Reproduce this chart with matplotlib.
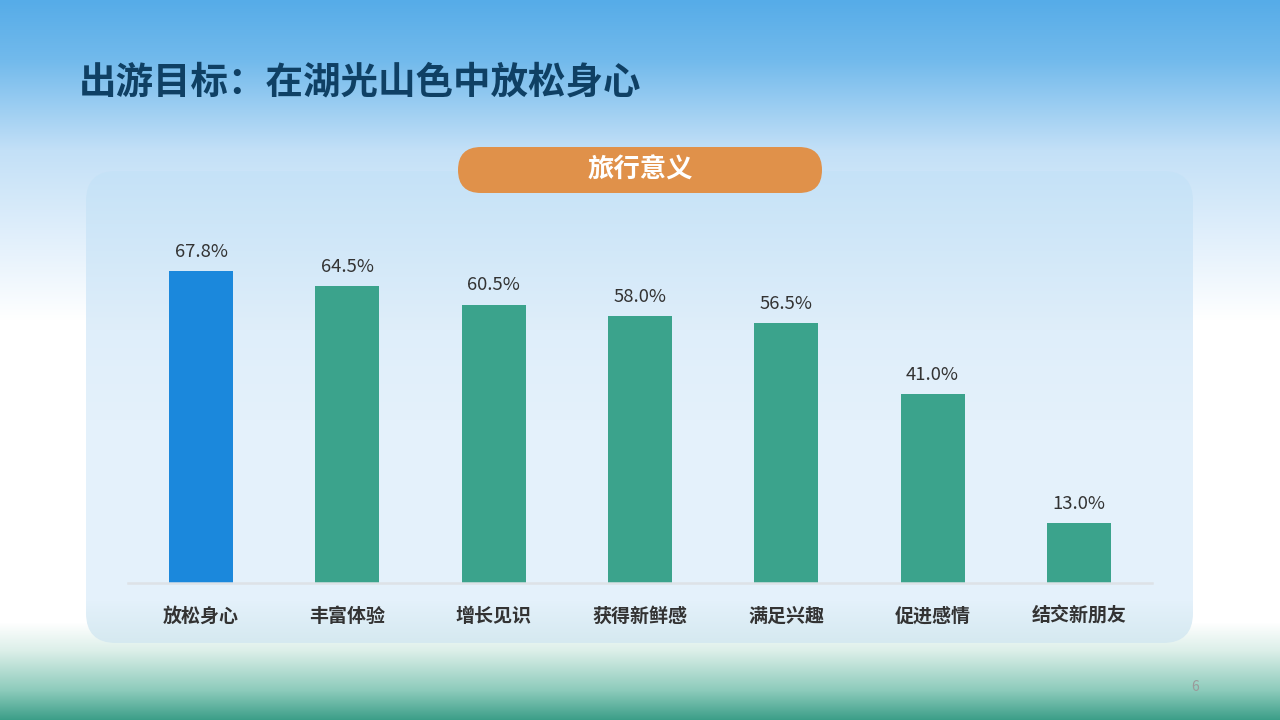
import numpy as np
import matplotlib
matplotlib.use("Agg")
import matplotlib.pyplot as plt
from matplotlib.patches import FancyBboxPatch
from matplotlib.colors import to_rgb

plt.rcParams['font.family'] = ['Noto Sans CJK SC', 'DejaVu Sans']

# 数据
categories = ['放松身心', '丰富体验', '增长见识', '获得新鲜感', '满足兴趣', '促进感情', '结交新朋友']
values = [67.8, 64.5, 60.5, 58.0, 56.5, 41.0, 13.0]
title = '出游目标：在湖光山色中放松身心'
panel_title = '旅行意义'

W, H = 1280, 720
fig = plt.figure(figsize=(12.8, 7.2), dpi=100)

# 背景（像素坐标）
bg = fig.add_axes([0, 0, 1, 1])
bg.set_xlim(0, W)
bg.set_ylim(H, 0)
bg.axis('off')


def vgrad(stops):
    ys = np.arange(H)
    sy = [s[0] for s in stops]
    cols = np.array([to_rgb(s[1]) for s in stops])
    g = np.stack([np.interp(ys, sy, cols[:, k]) for k in range(3)], axis=1)
    return np.repeat(g[:, None, :], 2, axis=1)


# 渐变：上方天蓝 -> 白 -> 底部绿色
bg_stops = [(0, '#56ace8'), (60, '#72baec'), (150, '#c3e0f7'), (250, '#e6f2fc'),
            (320, '#ffffff'), (622, '#ffffff'), (650, '#dcefe9'), (690, '#8ccbbb'), (720, '#3a9d87')]
bg.imshow(vgrad(bg_stops), extent=(0, W, H, 0), aspect='auto', zorder=0)

# 面板
panel = FancyBboxPatch((86, 171), 1107, 472,
                       boxstyle='round,pad=0,rounding_size=30', fc='none', ec='none', zorder=1)
bg.add_patch(panel)
panel_stops = [(0, '#c5e2f7'), (171, '#c5e2f7'), (330, '#dfeefa'), (420, '#e4f1fb'),
               (600, '#e4f1fb'), (643, '#d5e9f0'), (720, '#d5e9f0')]
pim = bg.imshow(vgrad(panel_stops), extent=(0, W, H, 0), aspect='auto', zorder=1)
pim.set_clip_path(panel)

# 橙色标签
pill = FancyBboxPatch((458, 147), 364, 46,
                      boxstyle='round,pad=0,rounding_size=23', fc='#e0914a', ec='none', zorder=2)
bg.add_patch(pill)
bg.text(640, 170, panel_title, ha='center', va='center', fontsize=19, color='white',
        fontweight='bold', zorder=3)

# 标题
bg.text(79, 82, title, ha='left', va='center', fontsize=27, color='#0f4064',
        fontweight='bold', zorder=3)

# 页码
bg.text(1195, 687, '6', ha='center', va='center', fontsize=10, color='#9a9a9a', zorder=3)

# 柱状图
ax_l, ax_r, ax_b = 128, 1152, 583
ymax = 80
px_per = 312 / 67.8
ax_t = ax_b - ymax * px_per
ax = fig.add_axes([ax_l / W, 1 - ax_b / H, (ax_r - ax_l) / W, (ax_b - ax_t) / H])
ax.patch.set_alpha(0)

x = np.arange(len(categories))
colors = ['#1b88dc'] + ['#3ba38c'] * (len(categories) - 1)
ax.bar(x, values, width=0.4375, color=colors, zorder=2)
for xi, v in zip(x, values):
    ax.text(xi, v + 2.2, f'{v:.1f}%', ha='center', va='bottom', fontsize=13.3, color='#333333')

ax.set_xlim(-0.5, len(categories) - 0.5)
ax.set_ylim(0, ymax)
ax.set_xticks(x)
ax.set_xticklabels(categories, fontsize=13.7, fontweight='bold', color='#333333')
ax.tick_params(axis='x', length=0, pad=17)
ax.set_yticks([])
for s in ['top', 'right', 'left']:
    ax.spines[s].set_visible(False)
ax.spines['bottom'].set_color('#dde2e7')
ax.spines['bottom'].set_linewidth(1.8)

fig.savefig('out.png', dpi=100)
